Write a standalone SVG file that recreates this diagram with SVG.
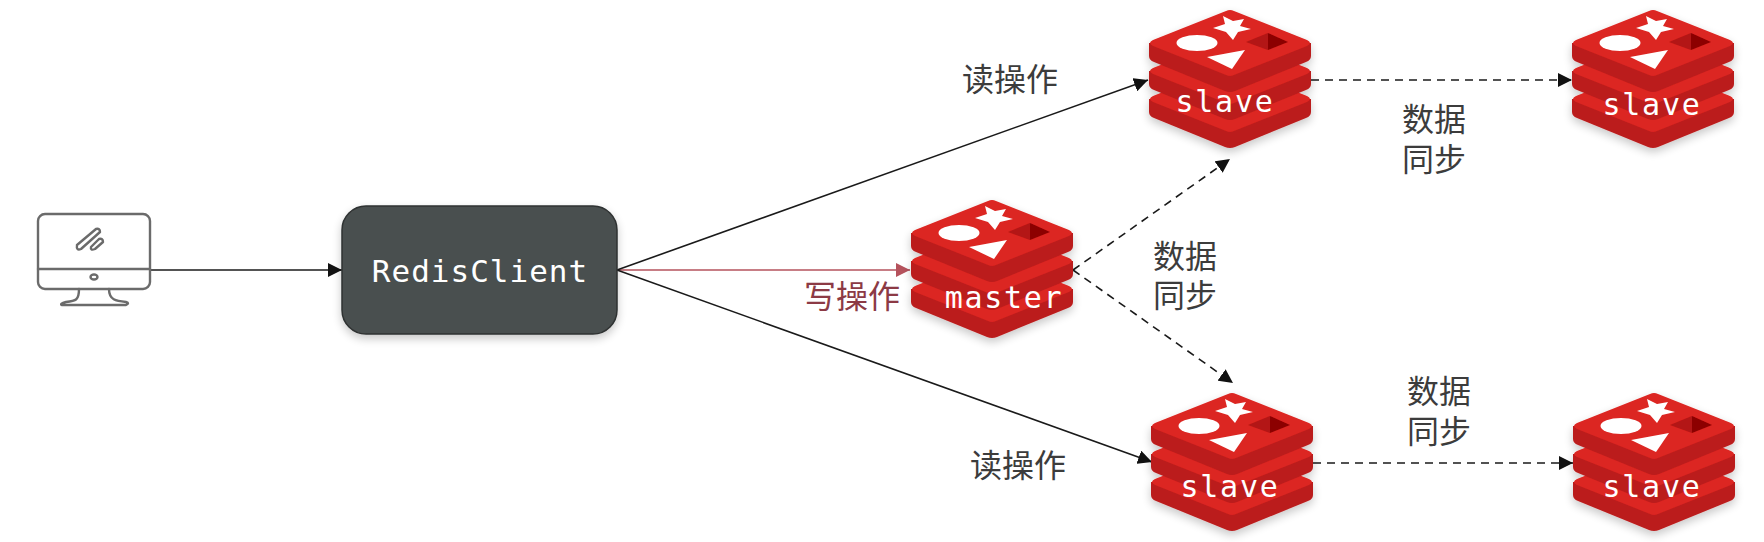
<svg xmlns="http://www.w3.org/2000/svg" xmlns:xlink="http://www.w3.org/1999/xlink" width="1764" height="542" viewBox="0 0 1764 542">
<style>
.cn{font-family:"Noto Sans CJK SC","Noto Sans",sans-serif;font-size:32px;fill:#3c3c3c;text-anchor:middle}
.mono{font-family:"DejaVu Sans Mono","Liberation Mono",monospace;fill:#fff;text-anchor:middle}
.lbl{font-size:30px;letter-spacing:1.7px}
.solid{fill:none;stroke:#1a1a1a;stroke-width:1.6}
.dash{fill:none;stroke:#1a1a1a;stroke-width:1.6;stroke-dasharray:8 6}
.mon{fill:none;stroke:#6b6b6b;stroke-width:2.4;stroke-linejoin:round;stroke-linecap:round}
</style>
<defs>
<marker id="ah" markerWidth="15" markerHeight="14" refX="14" refY="7" orient="auto" markerUnits="userSpaceOnUse"><path d="M0,0 L14,7 L0,14 Z" fill="#111"/></marker>
<marker id="ahr" markerWidth="15" markerHeight="14" refX="14" refY="7" orient="auto" markerUnits="userSpaceOnUse"><path d="M0,0 L14,7 L0,14 Z" fill="#b5525c"/></marker>
<filter id="sh" x="-15%" y="-15%" width="130%" height="135%"><feGaussianBlur in="SourceAlpha" stdDeviation="5"/><feOffset dy="4"/><feComponentTransfer><feFuncA type="linear" slope="0.22"/></feComponentTransfer><feMerge><feMergeNode/><feMergeNode in="SourceGraphic"/></feMerge></filter>
<g id="layer">
<path d="M0,0 L0,13 Q0,17 5,19 L76,48 Q81,50 86,48 L157,19 Q162,17 162,13 L162,0 Z" fill="#bb1e1e"/>
<path d="M4,-3 L77,-32 Q81,-34 85,-32 L158,-3 Q164,0 158,3 L85,32 Q81,34 77,32 L4,3 Q-2,0 4,-3 Z" fill="#dc2521"/>
</g>
<g id="redis">
<use xlink:href="#layer" href="#layer" x="0" y="89"/>
<use xlink:href="#layer" href="#layer" x="0" y="61"/>
<use xlink:href="#layer" href="#layer" x="0" y="33"/>
<ellipse cx="48" cy="33" rx="20.5" ry="8" fill="#fff"/>
<polygon points="74,6 84,11 95,9 91,16 102,19 89,22 84,30 77,22 64,18 76,14" fill="#fff"/>
<polygon points="58,47 96,40 83,59" fill="#fff"/>
<polygon points="97,32 119,23 119,40" fill="#b31513"/>
<polygon points="119,23 139,32 119,40" fill="#8c0000"/>
</g>
</defs>
<g id="connectors">
<line class="solid" x1="150" y1="270" x2="342" y2="270" marker-end="url(#ah)"/>
<line x1="617" y1="270" x2="910" y2="270" stroke="#b5525c" stroke-width="1.6" marker-end="url(#ahr)"/>
<line class="solid" x1="617" y1="270" x2="1148" y2="80" marker-end="url(#ah)"/>
<line class="solid" x1="617" y1="270" x2="1152" y2="462" marker-end="url(#ah)"/>
<line class="dash" x1="1073" y1="270" x2="1230" y2="159" marker-end="url(#ah)"/>
<line class="dash" x1="1073" y1="270" x2="1233" y2="383" marker-end="url(#ah)"/>
<line class="dash" x1="1311" y1="80" x2="1572" y2="80" marker-end="url(#ah)"/>
<line class="dash" x1="1313" y1="463" x2="1573" y2="463" marker-end="url(#ah)"/>
</g>
<g id="client">
<rect class="mon" x="38" y="214" width="112" height="75" rx="7"/>
<line class="mon" x1="38" y1="269" x2="150" y2="269"/>
<ellipse class="mon" cx="94" cy="277" rx="3.5" ry="2.5"/>
<path class="mon" d="M79,289 C79,300 76,301 66,302 Q59,304 62,305 L126,305 Q130,303 126,302 C116,301 109,300 109,289"/>
<path class="mon" d="M77,245 L96,229 Q100,228 100,232 L81,249 Q76,251 77,245 Z M91,247 L99,239 Q103,238 103,242 L95,249 Q90,251 91,247 Z" stroke-width="2"/>
</g>
<g id="redisclient">
<rect x="342" y="206" width="275" height="128" rx="24" fill="#4a4f4f" stroke="#2e3232" stroke-width="1.5" filter="url(#sh)"/>
<text class="mono" x="480" y="282" font-size="31" letter-spacing="1">RedisClient</text>
</g>
<g id="master"><use href="#redis" x="911" y="200" filter="url(#sh)"/><text class="mono lbl" x="1004" y="308">master</text></g>
<g id="slave1"><use href="#redis" x="1149" y="10" filter="url(#sh)"/><text class="mono lbl" x="1225" y="112">slave</text></g>
<g id="slave2"><use href="#redis" x="1572" y="10" filter="url(#sh)"/><text class="mono lbl" x="1652" y="115">slave</text></g>
<g id="slave3"><use href="#redis" x="1151" y="393" filter="url(#sh)"/><text class="mono lbl" x="1230" y="497">slave</text></g>
<g id="slave4"><use href="#redis" x="1573" y="393" filter="url(#sh)"/><text class="mono lbl" x="1652" y="497">slave</text></g>
<g id="labels">
<text class="cn" x="1010" y="91">读操作</text>
<text class="cn" x="852" y="308" style="fill:#8c3a45">写操作</text>
<text class="cn" x="1018" y="477">读操作</text>
<text class="cn" x="1434" y="131">数据</text><text class="cn" x="1434" y="171">同步</text>
<text class="cn" x="1185" y="268">数据</text><text class="cn" x="1185" y="307">同步</text>
<text class="cn" x="1439" y="403">数据</text><text class="cn" x="1439" y="443">同步</text>
</g>
</svg>
